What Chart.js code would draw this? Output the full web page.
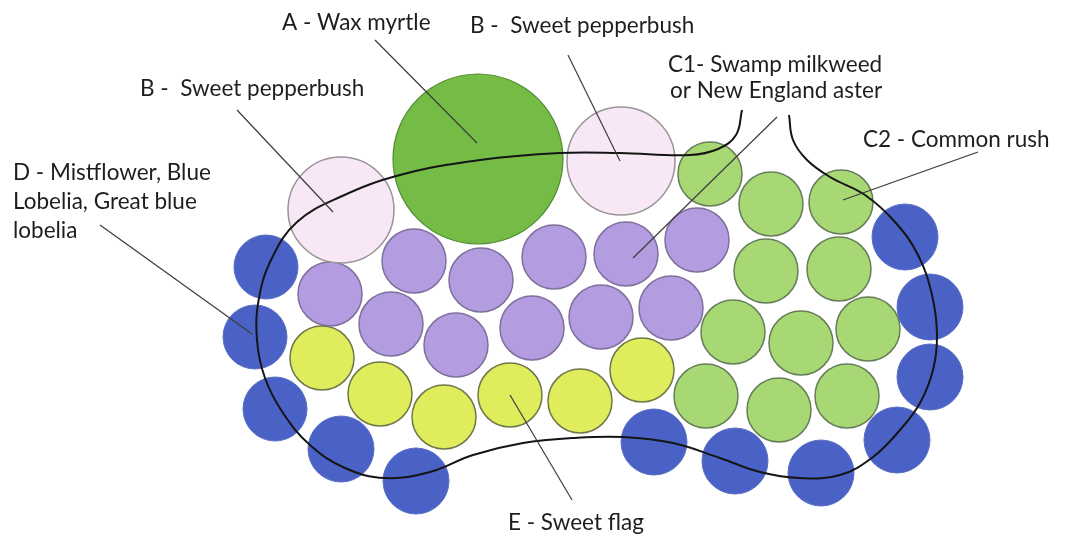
<!DOCTYPE html>
<html>
<head>
<meta charset="utf-8">
<script src="https://cdn.jsdelivr.net/npm/chart.js@4.4.1/dist/chart.umd.min.js"></script>
<style>
  html, body { margin: 0; padding: 0; background: #fff; }
  #wrap { width: 1079px; height: 537px; position: relative; }
</style>
</head>
<body>
<div id="wrap"><canvas id="plan"></canvas></div>
<script>
// planting plan, positions (x, y, radius)
const waxMyrtle = [[478, 159, 85]]
const pepperbush = [[341, 210, 53], [621, 161, 54]]
const mistflower = [
  [266, 267, 32], [255, 337, 32], [275, 409, 32], [341, 449, 33], [416, 481, 33],
  [654, 442, 33], [735, 461, 33], [821, 473, 33], [897, 440, 33], [930, 377, 33],
  [930, 307, 33], [905, 237, 33],
]
const swampMilkweed = [
  [330, 294, 32], [414, 261, 32], [391, 324, 32], [481, 280, 32], [456, 345, 32], [554, 257, 32],
  [626, 254, 32], [697, 240, 32], [532, 328, 32], [601, 317, 32], [671, 308, 32],
]
const sweetFlag = [[322, 358, 32], [380, 394, 32], [444, 417, 32], [510, 395, 32], [580, 401, 32], [642, 370, 32]]
const commonRush = [
  [710, 174, 32], [771, 204, 32], [841, 202, 32], [766, 271, 32], [839, 269, 32], [733, 332, 32],
  [801, 343, 32], [868, 329, 32], [706, 396, 32], [779, 410, 32], [847, 396, 32],
]

// bed outline, both ends hooking up to the C labels
const bedOutline = [
  [742, 110], [736, 135], [718, 149], [690, 155], [620, 153], [560, 153], [480, 160], [400, 175],
  [340, 197], [297, 222], [272, 258], [259, 298], [257, 340], [265, 378], [283, 413], [310, 445],
  [345, 468], [385, 478], [430, 472], [473, 455], [523, 443], [573, 438], [623, 437], [673, 443],
  [720, 458], [760, 472], [800, 478], [840, 475], [873, 457], [900, 430], [920, 403], [933, 370],
  [937, 335], [932, 295], [918, 255], [895, 222], [865, 195], [830, 177], [807, 160], [793, 140],
  [789, 115],
]

// label leaders: [from, to]
const leaders = [
  [[375, 40], [477, 143]],
  [[237, 110], [333, 212]],
  [[568, 55], [620, 161]],
  [[777, 117], [633, 258]],
  [[978, 152], [843, 200]],
  [[100, 225], [252, 334]],
  [[510, 395], [572, 500]],
]

const labelText = [
  'A - Wax myrtle', 'B -  Sweet pepperbush', 'B -  Sweet pepperbush', 'C1- Swamp milkweed', 'or New England aster',
  'C2 - Common rush', 'D - Mistflower, Blue', 'Lobelia, Great blue', 'lobelia', 'E - Sweet flag',
]
// left x, baseline y
const labelAt = [
  [282, 30], [140, 96], [470, 33], [668, 72], [670, 98], [863, 147], [13, 180], [13, 209], [13, 238], [508, 530],
]

const toPts = (arr) => arr.map((p) => ({ x: p[0], y: p[1], r: p[2] }))

function bubbleSet(arr, fill, edge, width) {
  return {
    type: 'bubble',
    data: toPts(arr),
    backgroundColor: fill,
    borderColor: edge,
    borderWidth: width,
    hoverRadius: 0,
    order: 10,
  }
}

const labelsPlugin = {
  id: 'planLabels',
  afterDraw(chart) {
    const { ctx, scales } = chart
    ctx.save()
    ctx.fillStyle = '#1e1e1e'
    ctx.font = '22.5px Lato'
    ctx.textBaseline = 'alphabetic'
    labelText.forEach((t, i) => {
      ctx.fillText(t, scales.x.getPixelForValue(labelAt[i][0]), scales.y.getPixelForValue(labelAt[i][1]))
    })
    ctx.restore()
  },
}

const datasets = [
  {
    type: 'scatter',
    data: toPts(bedOutline),
    showLine: true,
    tension: 0.4,
    borderColor: '#151515',
    borderWidth: 2,
    pointRadius: 0,
    order: 1,
  },
  ...leaders.map((l) => ({
    type: 'scatter',
    data: toPts(l),
    showLine: true,
    borderColor: '#3c3c3c',
    borderWidth: 1.2,
    pointRadius: 0,
    order: 0,
  })),
  bubbleSet(waxMyrtle, '#74bc46', '#4f8a32', 1.2),
  bubbleSet(pepperbush, '#f8e8f6', '#9a9499', 1.5),
  bubbleSet(mistflower, '#4a62c5', '#5a6fc2', 1),
  bubbleSet(swampMilkweed, '#b39ce0', '#7f6f9c', 1.5),
  bubbleSet(sweetFlag, '#dfec5c', '#6f7648', 1.5),
  bubbleSet(commonRush, '#a8d874', '#667e58', 1.5),
]

Chart.defaults.font.family = 'Lato'
new Chart(document.getElementById('plan').getContext('2d'), {
  type: 'bubble',
  data: { datasets },
  options: {
    responsive: true,
    maintainAspectRatio: false,
    animation: false,
    layout: { padding: 0, autoPadding: false },
    plugins: { legend: { display: false }, tooltip: { enabled: false } },
    scales: {
      x: { type: 'linear', min: 0, max: 1079, display: false },
      y: { type: 'linear', min: 0, max: 537, reverse: true, display: false },
    },
    clip: false,
  },
  plugins: [labelsPlugin],
})
</script>
</body>
</html>
